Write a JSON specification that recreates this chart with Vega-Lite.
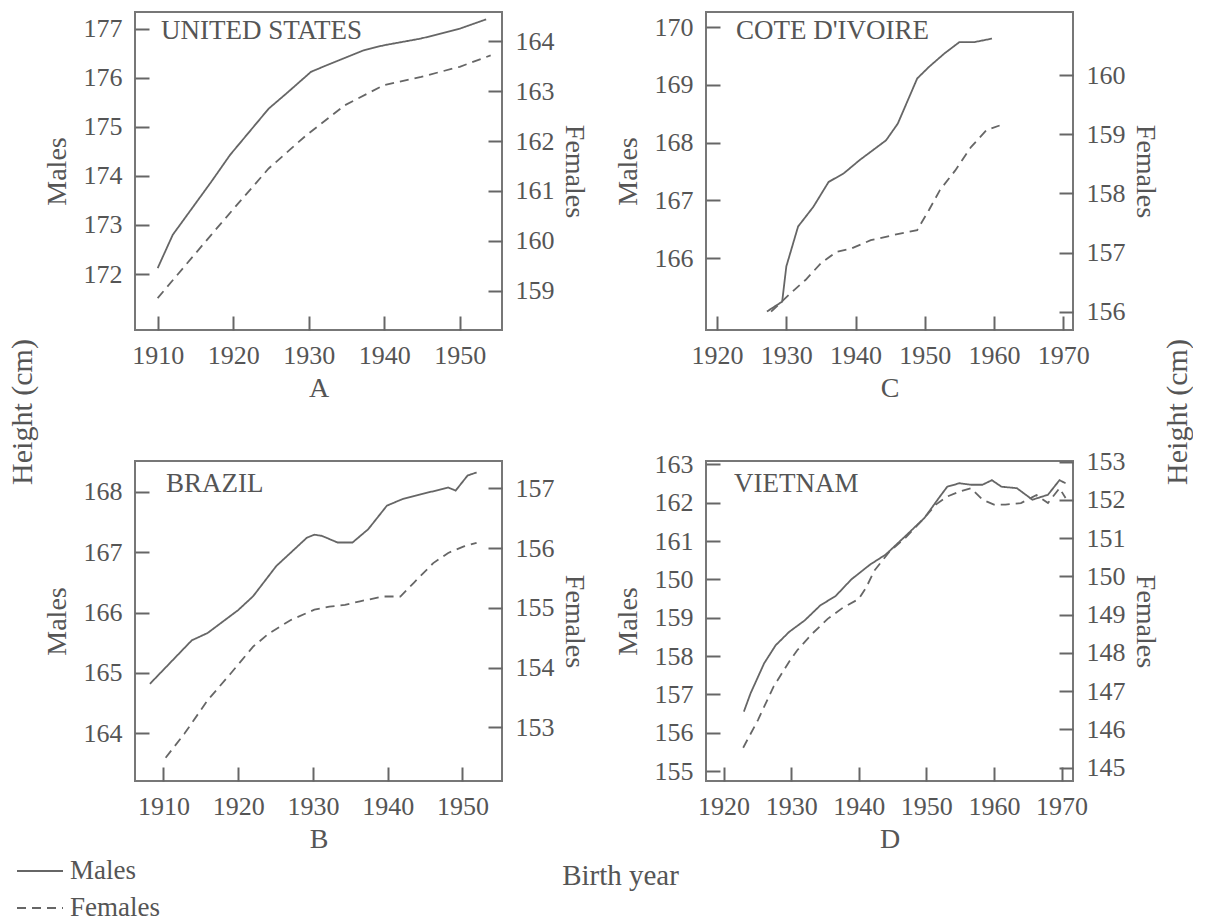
{
  "$schema": "https://vega.github.io/schema/vega-lite/v6.json",
  "padding": {"left": 8, "top": 11, "right": 0, "bottom": 0},
  "autosize": {"type": "pad"},
  "background": "white",
  "config": {
    "font": "Liberation Serif",
    "view": {"stroke": null},
    "axis": {"domain": false, "grid": false, "ticks": true, "tickSize": 14, "offset": -14, "tickColor": "#666", "tickWidth": 2, "labelFont": "Liberation Serif", "labelFontSize": 26, "labelColor": "#555", "labelPadding": 13, "labelFlush": false, "labelOverlap": false, "titleFont": "Liberation Serif", "titleFontSize": 28, "titleFontWeight": "normal", "titleColor": "#555", "titlePadding": 5},
    "axisLeft": {"titlePadding": 12},
    "axisX": {"labelPadding": 12, "titlePadding": 6},
    "title": {"font": "Liberation Serif", "fontWeight": "normal", "color": "#555", "fontSize": 27},
    "legend": {"orient": "none", "legendX": 8, "legendY": 835, "title": null, "symbolType": "stroke", "symbolSize": 2116, "symbolStrokeWidth": 2, "symbolStrokeColor": "#666", "labelFont": "Liberation Serif", "labelFontSize": 27, "labelColor": "#555", "labelOffset": 6, "rowPadding": -16}
  },
  "data": {"name": "d"},
  "datasets": {
    "d": [
      {"c": "US", "s": "Males", "year": 1910, "h": 172.12},
      {"c": "US", "s": "Males", "year": 1912.0, "h": 172.8},
      {"c": "US", "s": "Males", "year": 1917.1, "h": 173.88},
      {"c": "US", "s": "Males", "year": 1919.6, "h": 174.43},
      {"c": "US", "s": "Males", "year": 1924.7, "h": 175.37},
      {"c": "US", "s": "Males", "year": 1927.2, "h": 175.7},
      {"c": "US", "s": "Males", "year": 1930.3, "h": 176.12},
      {"c": "US", "s": "Males", "year": 1932.3, "h": 176.25},
      {"c": "US", "s": "Males", "year": 1937.3, "h": 176.56},
      {"c": "US", "s": "Males", "year": 1939.9, "h": 176.66},
      {"c": "US", "s": "Males", "year": 1944.9, "h": 176.8},
      {"c": "US", "s": "Males", "year": 1950, "h": 177.0},
      {"c": "US", "s": "Males", "year": 1953.5, "h": 177.19},
      {"c": "US", "s": "Females", "year": 1910, "h": 158.85},
      {"c": "US", "s": "Females", "year": 1917.1, "h": 160.12},
      {"c": "US", "s": "Females", "year": 1920.1, "h": 160.65},
      {"c": "US", "s": "Females", "year": 1924.7, "h": 161.45},
      {"c": "US", "s": "Females", "year": 1929.7, "h": 162.12},
      {"c": "US", "s": "Females", "year": 1934.8, "h": 162.72},
      {"c": "US", "s": "Females", "year": 1939.9, "h": 163.12},
      {"c": "US", "s": "Females", "year": 1944.9, "h": 163.29},
      {"c": "US", "s": "Females", "year": 1950, "h": 163.49},
      {"c": "US", "s": "Females", "year": 1954.1, "h": 163.72},
      {"c": "CI", "s": "Males", "year": 1927.2, "h": 165.08},
      {"c": "CI", "s": "Males", "year": 1929.4, "h": 165.25},
      {"c": "CI", "s": "Males", "year": 1930.0, "h": 165.86},
      {"c": "CI", "s": "Males", "year": 1931.7, "h": 166.55},
      {"c": "CI", "s": "Males", "year": 1933.9, "h": 166.89},
      {"c": "CI", "s": "Males", "year": 1936.1, "h": 167.32},
      {"c": "CI", "s": "Males", "year": 1938.3, "h": 167.47},
      {"c": "CI", "s": "Males", "year": 1940.6, "h": 167.7},
      {"c": "CI", "s": "Males", "year": 1944.4, "h": 168.04},
      {"c": "CI", "s": "Males", "year": 1946.1, "h": 168.33},
      {"c": "CI", "s": "Males", "year": 1948.9, "h": 169.11},
      {"c": "CI", "s": "Males", "year": 1950.6, "h": 169.31},
      {"c": "CI", "s": "Males", "year": 1952.8, "h": 169.54},
      {"c": "CI", "s": "Males", "year": 1955.0, "h": 169.74},
      {"c": "CI", "s": "Males", "year": 1957.2, "h": 169.74},
      {"c": "CI", "s": "Males", "year": 1959.7, "h": 169.8},
      {"c": "CI", "s": "Females", "year": 1927.8, "h": 156.0},
      {"c": "CI", "s": "Females", "year": 1930.6, "h": 156.31},
      {"c": "CI", "s": "Females", "year": 1932.8, "h": 156.54},
      {"c": "CI", "s": "Females", "year": 1935.0, "h": 156.82},
      {"c": "CI", "s": "Females", "year": 1937.2, "h": 157.01},
      {"c": "CI", "s": "Females", "year": 1939.4, "h": 157.07},
      {"c": "CI", "s": "Females", "year": 1942.2, "h": 157.21},
      {"c": "CI", "s": "Females", "year": 1945.6, "h": 157.3},
      {"c": "CI", "s": "Females", "year": 1948.9, "h": 157.38},
      {"c": "CI", "s": "Females", "year": 1950.6, "h": 157.72},
      {"c": "CI", "s": "Females", "year": 1952.2, "h": 158.06},
      {"c": "CI", "s": "Females", "year": 1954.4, "h": 158.39},
      {"c": "CI", "s": "Females", "year": 1956.7, "h": 158.79},
      {"c": "CI", "s": "Females", "year": 1958.9, "h": 159.07},
      {"c": "CI", "s": "Females", "year": 1960.8, "h": 159.15},
      {"c": "BR", "s": "Males", "year": 1908.2, "h": 164.82},
      {"c": "BR", "s": "Males", "year": 1913.8, "h": 165.54},
      {"c": "BR", "s": "Males", "year": 1915.9, "h": 165.66},
      {"c": "BR", "s": "Males", "year": 1920.0, "h": 166.04},
      {"c": "BR", "s": "Males", "year": 1922.0, "h": 166.27},
      {"c": "BR", "s": "Males", "year": 1925.1, "h": 166.77},
      {"c": "BR", "s": "Males", "year": 1929.2, "h": 167.24},
      {"c": "BR", "s": "Males", "year": 1930.2, "h": 167.29},
      {"c": "BR", "s": "Males", "year": 1931.2, "h": 167.27},
      {"c": "BR", "s": "Males", "year": 1933.3, "h": 167.16},
      {"c": "BR", "s": "Males", "year": 1935.3, "h": 167.16},
      {"c": "BR", "s": "Males", "year": 1937.4, "h": 167.38},
      {"c": "BR", "s": "Males", "year": 1939.9, "h": 167.77},
      {"c": "BR", "s": "Males", "year": 1942.0, "h": 167.88},
      {"c": "BR", "s": "Males", "year": 1944.5, "h": 167.96},
      {"c": "BR", "s": "Males", "year": 1948.1, "h": 168.07},
      {"c": "BR", "s": "Males", "year": 1949.1, "h": 168.02},
      {"c": "BR", "s": "Males", "year": 1950.7, "h": 168.27},
      {"c": "BR", "s": "Males", "year": 1951.9, "h": 168.32},
      {"c": "BR", "s": "Females", "year": 1910.3, "h": 152.49},
      {"c": "BR", "s": "Females", "year": 1912.8, "h": 152.89},
      {"c": "BR", "s": "Females", "year": 1915.9, "h": 153.45},
      {"c": "BR", "s": "Females", "year": 1919.0, "h": 153.9},
      {"c": "BR", "s": "Females", "year": 1922.0, "h": 154.35},
      {"c": "BR", "s": "Females", "year": 1924.1, "h": 154.57},
      {"c": "BR", "s": "Females", "year": 1927.1, "h": 154.8},
      {"c": "BR", "s": "Females", "year": 1930.2, "h": 154.97},
      {"c": "BR", "s": "Females", "year": 1932.2, "h": 155.02},
      {"c": "BR", "s": "Females", "year": 1934.3, "h": 155.05},
      {"c": "BR", "s": "Females", "year": 1936.3, "h": 155.11},
      {"c": "BR", "s": "Females", "year": 1939.4, "h": 155.19},
      {"c": "BR", "s": "Females", "year": 1941.7, "h": 155.19},
      {"c": "BR", "s": "Females", "year": 1943.5, "h": 155.42},
      {"c": "BR", "s": "Females", "year": 1946.1, "h": 155.75},
      {"c": "BR", "s": "Females", "year": 1948.1, "h": 155.92},
      {"c": "BR", "s": "Females", "year": 1950.2, "h": 156.03},
      {"c": "BR", "s": "Females", "year": 1951.9, "h": 156.09},
      {"c": "VN", "s": "Males", "year": 1923.0, "h": 156.55},
      {"c": "VN", "s": "Males", "year": 1924.0, "h": 157.03},
      {"c": "VN", "s": "Males", "year": 1926.0, "h": 157.81},
      {"c": "VN", "s": "Males", "year": 1927.7, "h": 158.28},
      {"c": "VN", "s": "Males", "year": 1929.7, "h": 158.63},
      {"c": "VN", "s": "Males", "year": 1932.0, "h": 158.93},
      {"c": "VN", "s": "Males", "year": 1934.3, "h": 159.32},
      {"c": "VN", "s": "Males", "year": 1936.6, "h": 159.57},
      {"c": "VN", "s": "Males", "year": 1938.9, "h": 160.0},
      {"c": "VN", "s": "Males", "year": 1941.7, "h": 160.39},
      {"c": "VN", "s": "Males", "year": 1944.0, "h": 160.65},
      {"c": "VN", "s": "Males", "year": 1946.9, "h": 161.13},
      {"c": "VN", "s": "Males", "year": 1949.7, "h": 161.6},
      {"c": "VN", "s": "Males", "year": 1952.0, "h": 162.16},
      {"c": "VN", "s": "Males", "year": 1953.1, "h": 162.42},
      {"c": "VN", "s": "Males", "year": 1954.9, "h": 162.51},
      {"c": "VN", "s": "Males", "year": 1956.6, "h": 162.47},
      {"c": "VN", "s": "Males", "year": 1958.3, "h": 162.47},
      {"c": "VN", "s": "Males", "year": 1959.7, "h": 162.59},
      {"c": "VN", "s": "Males", "year": 1961.1, "h": 162.42},
      {"c": "VN", "s": "Males", "year": 1963.4, "h": 162.38},
      {"c": "VN", "s": "Males", "year": 1965.7, "h": 162.08},
      {"c": "VN", "s": "Males", "year": 1968.0, "h": 162.21},
      {"c": "VN", "s": "Males", "year": 1969.7, "h": 162.59},
      {"c": "VN", "s": "Males", "year": 1970.6, "h": 162.51},
      {"c": "VN", "s": "Females", "year": 1922.9, "h": 145.52},
      {"c": "VN", "s": "Females", "year": 1925.1, "h": 146.25},
      {"c": "VN", "s": "Females", "year": 1927.4, "h": 147.12},
      {"c": "VN", "s": "Females", "year": 1929.7, "h": 147.77},
      {"c": "VN", "s": "Females", "year": 1930.9, "h": 148.07},
      {"c": "VN", "s": "Females", "year": 1933.1, "h": 148.5},
      {"c": "VN", "s": "Females", "year": 1935.4, "h": 148.89},
      {"c": "VN", "s": "Females", "year": 1937.7, "h": 149.19},
      {"c": "VN", "s": "Females", "year": 1940.0, "h": 149.41},
      {"c": "VN", "s": "Females", "year": 1941.1, "h": 149.71},
      {"c": "VN", "s": "Females", "year": 1942.3, "h": 150.15},
      {"c": "VN", "s": "Females", "year": 1944.6, "h": 150.66},
      {"c": "VN", "s": "Females", "year": 1946.9, "h": 151.01},
      {"c": "VN", "s": "Females", "year": 1949.7, "h": 151.53},
      {"c": "VN", "s": "Females", "year": 1951.4, "h": 151.88},
      {"c": "VN", "s": "Females", "year": 1953.1, "h": 152.09},
      {"c": "VN", "s": "Females", "year": 1954.9, "h": 152.22},
      {"c": "VN", "s": "Females", "year": 1956.6, "h": 152.31},
      {"c": "VN", "s": "Females", "year": 1958.3, "h": 152.01},
      {"c": "VN", "s": "Females", "year": 1960.0, "h": 151.88},
      {"c": "VN", "s": "Females", "year": 1961.7, "h": 151.88},
      {"c": "VN", "s": "Females", "year": 1964.0, "h": 151.92},
      {"c": "VN", "s": "Females", "year": 1966.3, "h": 152.13},
      {"c": "VN", "s": "Females", "year": 1968.0, "h": 151.92},
      {"c": "VN", "s": "Females", "year": 1969.7, "h": 152.31},
      {"c": "VN", "s": "Females", "year": 1970.6, "h": 152.05}
    ]
  },
  "spacing": 4,
  "hconcat": [
    {
      "width": 30, "height": 800,
      "data": {"values": [{"t": "Height (cm)"}]},
      "mark": {"type": "text", "angle": 270, "font": "Liberation Serif", "fontSize": 30, "color": "#555", "align": "center", "baseline": "middle"},
      "encoding": {"text": {"field": "t"}}
    },
    {
      "columns": 2,
      "bounds": "flush",
      "spacing": {"row": 131, "column": 204},
      "title": {"text": "Birth year", "orient": "bottom", "anchor": "middle", "dx": 20, "offset": 8, "fontSize": 29},
      "concat": [
        {
          "width": 367, "height": 318,
          "view": {"stroke": "#777", "strokeWidth": 2},
          "title": {"text": "UNITED STATES", "anchor": "start", "frame": "group", "orient": "top", "baseline": "middle", "offset": -46, "dx": 26},
          "transform": [{"filter": "datum.c == 'US'"}],
          "encoding": {"x": {"field": "year", "type": "quantitative", "scale": {"domain": [1907.0, 1955.6], "nice": false, "zero": false}, "axis": {"values": [1910, 1920, 1930, 1940, 1950], "format": "d", "title": "A"}}},
          "layer": [
            {"transform": [{"filter": "datum.s == 'Males'"}], "mark": {"type": "line", "color": "#666", "strokeWidth": 1.8},
             "encoding": {"y": {"field": "h", "type": "quantitative", "scale": {"domain": [170.86, 177.34], "nice": false, "zero": false}, "axis": {"orient": "left", "values": [172, 173, 174, 175, 176, 177], "title": "Males"}},
                          "strokeDash": {"field": "s", "type": "nominal", "scale": {"domain": ["Males", "Females"], "range": [[1, 0], [9, 6]]}}}},
            {"transform": [{"filter": "datum.s == 'Females'"}], "mark": {"type": "line", "color": "#666", "strokeWidth": 1.8},
             "encoding": {"y": {"field": "h", "type": "quantitative", "scale": {"domain": [158.21, 164.59], "nice": false, "zero": false}, "axis": {"orient": "right", "values": [159, 160, 161, 162, 163, 164], "title": "Females"}},
                          "strokeDash": {"field": "s", "type": "nominal", "scale": {"domain": ["Males", "Females"], "range": [[1, 0], [9, 6]]}}}}
          ],
          "resolve": {"scale": {"y": "independent"}}
        },
        {
          "width": 367, "height": 318,
          "view": {"stroke": "#777", "strokeWidth": 2},
          "title": {"text": "COTE D'IVOIRE", "anchor": "start", "frame": "group", "orient": "top", "baseline": "middle", "offset": -46, "dx": 30},
          "transform": [{"filter": "datum.c == 'CI'"}],
          "encoding": {"x": {"field": "year", "type": "quantitative", "scale": {"domain": [1918.4, 1971.4], "nice": false, "zero": false}, "axis": {"values": [1920, 1930, 1940, 1950, 1960, 1970], "format": "d", "title": "C"}}},
          "layer": [
            {"transform": [{"filter": "datum.s == 'Males'"}], "mark": {"type": "line", "color": "#666", "strokeWidth": 1.8},
             "encoding": {"y": {"field": "h", "type": "quantitative", "scale": {"domain": [164.76, 170.26], "nice": false, "zero": false}, "axis": {"orient": "left", "values": [166, 167, 168, 169, 170], "title": "Males"}},
                          "strokeDash": {"field": "s", "type": "nominal", "scale": {"domain": ["Males", "Females"], "range": [[1, 0], [9, 6]]}}}},
            {"transform": [{"filter": "datum.s == 'Females'"}], "mark": {"type": "line", "color": "#666", "strokeWidth": 1.8},
             "encoding": {"y": {"field": "h", "type": "quantitative", "scale": {"domain": [155.69, 161.07], "nice": false, "zero": false}, "axis": {"orient": "right", "values": [156, 157, 158, 159, 160], "title": "Females"}},
                          "strokeDash": {"field": "s", "type": "nominal", "scale": {"domain": ["Males", "Females"], "range": [[1, 0], [9, 6]]}}}}
          ],
          "resolve": {"scale": {"y": "independent"}}
        },
        {
          "width": 367, "height": 320,
          "view": {"stroke": "#777", "strokeWidth": 2},
          "title": {"text": "BRAZIL", "anchor": "start", "frame": "group", "orient": "top", "baseline": "middle", "offset": -50, "dx": 31},
          "transform": [{"filter": "datum.c == 'BR'"}],
          "encoding": {"x": {"field": "year", "type": "quantitative", "scale": {"domain": [1906.2, 1955.3], "nice": false, "zero": false}, "axis": {"values": [1910, 1920, 1930, 1940, 1950], "format": "d", "title": "B"}}},
          "layer": [
            {"transform": [{"filter": "datum.s == 'Males'"}], "mark": {"type": "line", "color": "#666", "strokeWidth": 1.8},
             "encoding": {"y": {"field": "h", "type": "quantitative", "scale": {"domain": [163.21, 168.51], "nice": false, "zero": false}, "axis": {"orient": "left", "values": [164, 165, 166, 167, 168], "title": "Males"}},
                          "strokeDash": {"field": "s", "type": "nominal", "scale": {"domain": ["Males", "Females"], "range": [[1, 0], [9, 6]]}}}},
            {"transform": [{"filter": "datum.s == 'Females'"}], "mark": {"type": "line", "color": "#666", "strokeWidth": 1.8},
             "encoding": {"y": {"field": "h", "type": "quantitative", "scale": {"domain": [152.1, 157.46], "nice": false, "zero": false}, "axis": {"orient": "right", "values": [153, 154, 155, 156, 157], "title": "Females"}},
                          "strokeDash": {"field": "s", "type": "nominal", "scale": {"domain": ["Males", "Females"], "range": [[1, 0], [9, 6]]}}}}
          ],
          "resolve": {"scale": {"y": "independent"}}
        },
        {
          "width": 367, "height": 320,
          "view": {"stroke": "#777", "strokeWidth": 2},
          "title": {"text": "VIETNAM", "anchor": "start", "frame": "group", "orient": "top", "baseline": "middle", "offset": -62, "dx": 28},
          "transform": [{"filter": "datum.c == 'VN'"}],
          "encoding": {"x": {"field": "year", "type": "quantitative", "scale": {"domain": [1917.4, 1971.7], "nice": false, "zero": false}, "axis": {"values": [1920, 1930, 1940, 1950, 1960, 1970], "format": "d", "title": "D"}}},
          "layer": [
            {"transform": [{"filter": "datum.s == 'Males'"}], "mark": {"type": "line", "color": "#666", "strokeWidth": 1.8},
             "encoding": {"y": {"field": "h", "type": "quantitative", "scale": {"domain": [154.74, 163.09], "nice": false, "zero": false}, "axis": {"orient": "left", "values": [155, 156, 157, 158, 159, 160, 161, 162, 163], "labelExpr": "datum.value == 160 ? '150' : datum.label", "title": "Males"}},
                          "strokeDash": {"field": "s", "type": "nominal", "scale": {"domain": ["Males", "Females"], "range": [[1, 0], [9, 6]]}}}},
            {"transform": [{"filter": "datum.s == 'Females'"}], "mark": {"type": "line", "color": "#666", "strokeWidth": 1.8},
             "encoding": {"y": {"field": "h", "type": "quantitative", "scale": {"domain": [144.65, 153.02], "nice": false, "zero": false}, "axis": {"orient": "right", "values": [145, 146, 147, 148, 149, 150, 151, 152, 153], "title": "Females"}},
                          "strokeDash": {"field": "s", "type": "nominal", "scale": {"domain": ["Males", "Females"], "range": [[1, 0], [9, 6]]}}}}
          ],
          "resolve": {"scale": {"y": "independent"}}
        }
      ]
    },
    {
      "width": 30, "height": 800,
      "data": {"values": [{"t": "Height (cm)"}]},
      "mark": {"type": "text", "angle": 270, "font": "Liberation Serif", "fontSize": 30, "color": "#555", "align": "center", "baseline": "middle"},
      "encoding": {"text": {"field": "t"}}
    }
  ]
}
